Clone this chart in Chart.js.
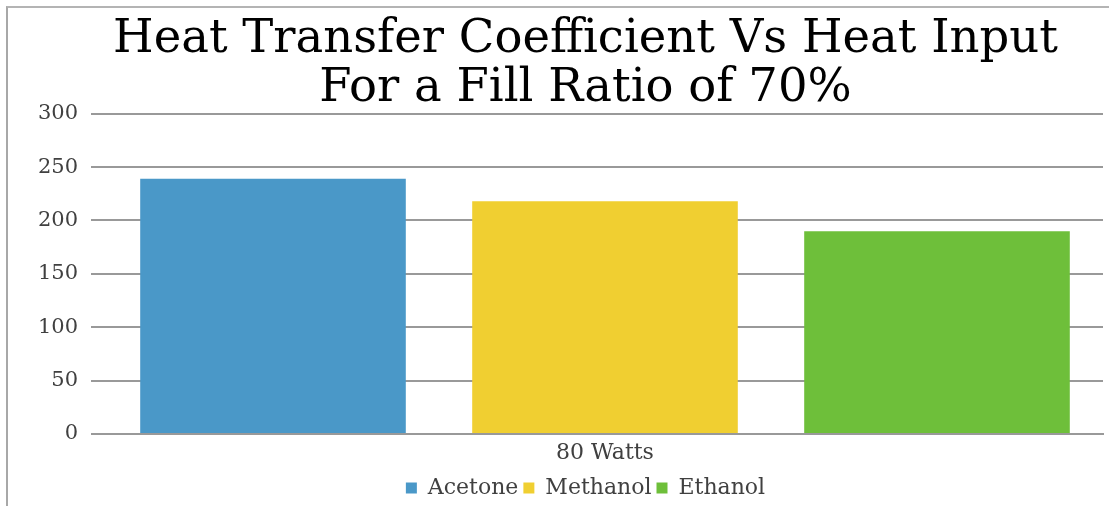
<!DOCTYPE html>
<html>
<head>
<meta charset="utf-8">
<title>Heat Transfer Coefficient Vs Heat Input</title>
<script src="https://cdn.jsdelivr.net/npm/chart.js@4.4.1/dist/chart.umd.min.js"></script>
<style>
  html, body { margin: 0; padding: 0; background: #fff; }
  #wrap { position: relative; width: 1109px; height: 506px; }
  #frame {
    position: absolute; left: 6px; top: 6px; right: 0; bottom: 0;
    border-top: 2px solid #b4b4b4; border-left: 2px solid #a8a8a8;
    pointer-events: none;
  }
</style>
</head>
<body>
<div id="wrap">
  <canvas id="bar-chart" width="1109" height="506"></canvas>
  <div id="frame"></div>
</div>
<script>
// heat input groups and fluids
var categories = ["80 Watts"];
var fluids = ["Acetone", "Methanol", "Ethanol"];
var fluidColors = ["#4a98c8", "#f0cf31", "#6ebf3a"];
// heat transfer coefficient per fluid
var acetone = [239];
var methanol = [218];
var ethanol = [190];
var yTicks = [0, 50, 100, 150, 200, 250, 300];

var series = [acetone, methanol, ethanol];
var serif = "'DejaVu Serif', 'Liberation Serif', serif";

// the y axis box is kept narrow so the title sits right of centre;
// widen its label clip area so "300" etc. are not cut off
var wideYLabels = {
  id: 'wideYLabels',
  afterLayout: function (chart) {
    chart.scales.y.left = 10;
  }
};

new Chart(document.getElementById("bar-chart"), {
  type: 'bar',
  data: {
    labels: categories,
    datasets: fluids.map(function (name, i) {
      return {
        label: name,
        data: series[i],
        backgroundColor: fluidColors[i],
        borderWidth: 0,
        barPercentage: 0.8,
        categoryPercentage: 1.0
      };
    })
  },
  plugins: [wideYLabels],
  options: {
    responsive: false,
    animation: false,
    layout: { padding: { left: 68, right: 6, top: 8, bottom: -3 } },
    plugins: {
      title: {
        display: true,
        text: ['Heat Transfer Coefficient Vs Heat Input', 'For a Fill Ratio of 70%'],
        color: '#000',
        font: { family: serif, size: 46.5, weight: 'normal', lineHeight: 1.04 },
        padding: { top: 8, bottom: 1 }
      },
      legend: {
        position: 'bottom',
        labels: {
          color: '#404040',
          font: { family: serif, size: 22 },
          boxWidth: 11,
          boxHeight: 11,
          padding: 5
        }
      },
      tooltip: { enabled: false }
    },
    scales: {
      x: {
        grid: { display: false, drawTicks: false },
        border: { display: true, color: '#999', width: 2 },
        ticks: { color: '#404040', font: { family: serif, size: 22, lineHeight: 1.0 }, padding: 8 }
      },
      y: {
        min: yTicks[0],
        max: yTicks[yTicks.length - 1],
        afterFit: function (scale) { scale.width = 39; },
        grid: { color: '#999', lineWidth: 2, tickLength: 16, drawTicks: true },
        border: { display: false },
        ticks: {
          stepSize: yTicks[1] - yTicks[0],
          color: '#404040',
          font: { family: serif, size: 21 },
          padding: 13
        }
      }
    }
  }
});
</script>
</body>
</html>
